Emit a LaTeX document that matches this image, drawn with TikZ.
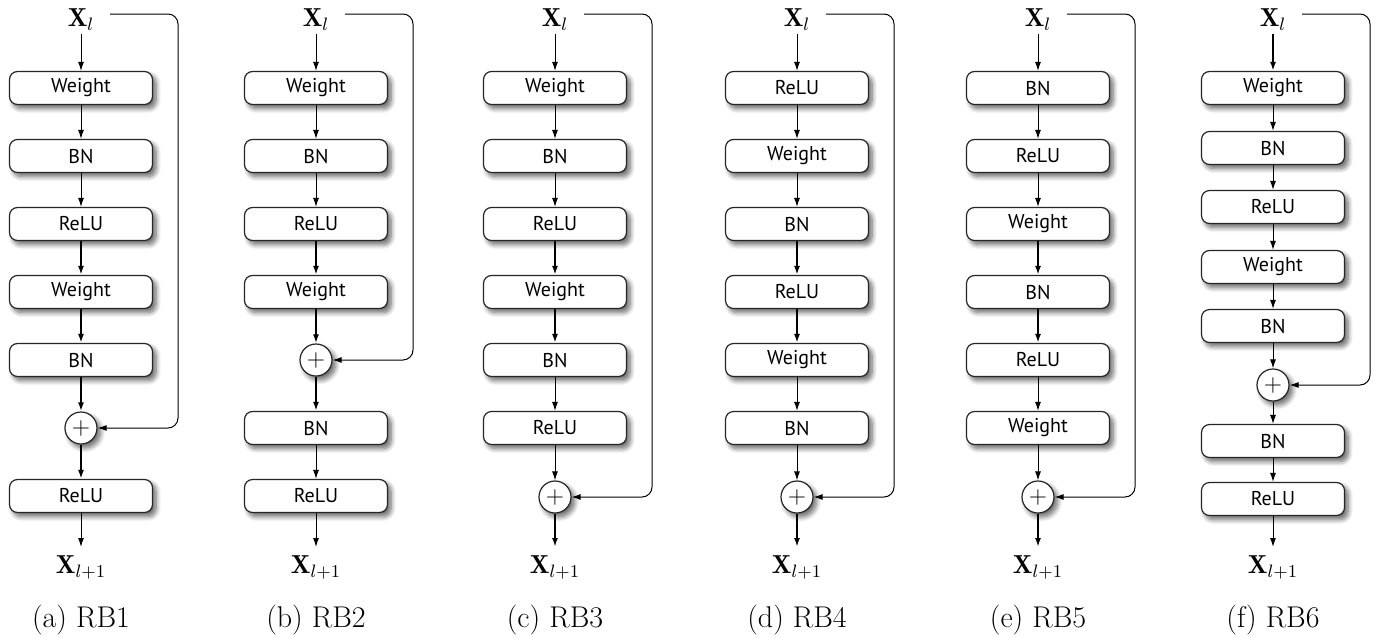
\documentclass[tikz,border=0pt]{standalone}
\usepackage{fontspec}
\newfontfamily\boxfont{PT Sans}
\usetikzlibrary{arrows.meta,shadows.blur}
\begin{document}
\begin{tikzpicture}[x=0.5pt,y=-0.5pt,
  shd/.style={blur shadow={shadow xshift=1.8pt,shadow yshift=-2pt,shadow blur radius=2.4pt,shadow blur steps=8,shadow opacity=60}},
  blk/.style={draw=black!85,line width=0.6pt,fill=white,rounded corners=4pt,
    minimum width=71.5pt,minimum height=16.5pt,inner sep=0pt,
    font=\boxfont\fontsize{10}{12}\selectfont,shd},
  sum/.style={circle,draw=black!85,line width=0.6pt,fill=white,minimum size=16pt,inner sep=0pt,
    font=\fontsize{12.5}{14}\selectfont,shd},
  xin/.style={anchor=base,inner xsep=2pt,inner ysep=1.5pt,font=\fontsize{13}{15}\selectfont},
  xout/.style={anchor=north,inner xsep=2pt,inner ysep=4pt,font=\fontsize{13}{15}\selectfont},
  capt/.style={font=\fontsize{15}{17}\selectfont},
  arr/.style={-{Latex[length=4.5pt,width=3pt]},line width=0.5pt},
  tk/.style={line width=0.9pt},
  skip/.style={arr,rounded corners=5pt}
]
\useasboundingbox (0,0) rectangle (1385,637);

% ---------- (a) RB1 ----------
\node[xin] (aX) at (81,26) {$\mathbf{X}_l$};
\coordinate (aS) at (110,14);
\foreach \t [count=\i] in {Weight,BN,ReLU,Weight,BN}
  \node[blk] (a\i) at (81,{88+68*(\i-1)}) {\t};
\node[sum] (aP) at (81,428) {$+$};
\node[blk] (a6) at (81,496) {ReLU};
\node[xout] (aY) at (81,547) {$\mathbf{X}_{l+1}$};
\node[capt] (aC) at (81,620) {(a) RB1};
\coordinate (aK) at (178,428);
\draw[arr] (aX) -- (a1);
\draw[arr] (a1) -- (a2);
\draw[arr] (a2) -- (a3);
\draw[arr,tk] (a3) -- (a4);
\draw[arr,tk] (a4) -- (a5);
\draw[arr,tk] (a5) -- (aP);
\draw[arr,tk] (aP) -- (a6);
\draw[arr] (a6) -- (aY);
\draw[skip] (aS) -| (aK) -- (aP);

% ---------- (b) RB2 ----------
\node[xin] (bX) at (316,26) {$\mathbf{X}_l$};
\coordinate (bS) at (345,14);
\foreach \t [count=\i] in {Weight,BN,ReLU,Weight}
  \node[blk] (b\i) at (316,{88+68*(\i-1)}) {\t};
\node[sum] (bP) at (316,360) {$+$};
\node[blk] (b5) at (316,428) {BN};
\node[blk] (b6) at (316,496) {ReLU};
\node[xout] (bY) at (316,547) {$\mathbf{X}_{l+1}$};
\node[capt] (bC) at (316,620) {(b) RB2};
\coordinate (bK) at (413,360);
\draw[arr] (bX) -- (b1);
\draw[arr] (b1) -- (b2);
\draw[arr] (b2) -- (b3);
\draw[arr,tk] (b3) -- (b4);
\draw[arr,tk] (b4) -- (bP);
\draw[arr,tk] (bP) -- (b5);
\draw[arr] (b5) -- (b6);
\draw[arr] (b6) -- (bY);
\draw[skip] (bS) -| (bK) -- (bP);

% ---------- (c) RB3 ----------
\node[xin] (cX) at (555,26) {$\mathbf{X}_l$};
\coordinate (cS) at (584,14);
\foreach \t [count=\i] in {Weight,BN,ReLU,Weight,BN,ReLU}
  \node[blk] (c\i) at (555,{88+68*(\i-1)}) {\t};
\node[sum] (cP) at (555,497) {$+$};
\node[xout] (cY) at (555,547) {$\mathbf{X}_{l+1}$};
\node[capt] (cC) at (555,620) {(c) RB3};
\coordinate (cK) at (652,497);
\draw[arr] (cX) -- (c1);
\draw[arr] (c1) -- (c2);
\draw[arr] (c2) -- (c3);
\draw[arr,tk] (c3) -- (c4);
\draw[arr,tk] (c4) -- (c5);
\draw[arr] (c5) -- (c6);
\draw[arr] (c6) -- (cP);
\draw[arr,tk] (cP) -- (cY);
\draw[skip] (cS) -| (cK) -- (cP);

% ---------- (d) RB4 ----------
\node[xin] (dX) at (797,26) {$\mathbf{X}_l$};
\coordinate (dS) at (826,14);
\foreach \t [count=\i] in {ReLU,Weight,BN,ReLU,Weight,BN}
  \node[blk] (d\i) at (797,{88+68*(\i-1)}) {\t};
\node[sum] (dP) at (797,497) {$+$};
\node[xout] (dY) at (797,547) {$\mathbf{X}_{l+1}$};
\node[capt] (dC) at (797,620) {(d) RB4};
\coordinate (dK) at (894,497);
\draw[arr] (dX) -- (d1);
\draw[arr] (d1) -- (d2);
\draw[arr] (d2) -- (d3);
\draw[arr,tk] (d3) -- (d4);
\draw[arr,tk] (d4) -- (d5);
\draw[arr] (d5) -- (d6);
\draw[arr] (d6) -- (dP);
\draw[arr,tk] (dP) -- (dY);
\draw[skip] (dS) -| (dK) -- (dP);

% ---------- (e) RB5 ----------
\node[xin] (eX) at (1038,26) {$\mathbf{X}_l$};
\coordinate (eS) at (1067,14);
\foreach \t [count=\i] in {BN,ReLU,Weight,BN,ReLU,Weight}
  \node[blk] (e\i) at (1038,{88+68*(\i-1)}) {\t};
\node[sum] (eP) at (1038,497) {$+$};
\node[xout] (eY) at (1038,547) {$\mathbf{X}_{l+1}$};
\node[capt] (eC) at (1038,620) {(e) RB5};
\coordinate (eK) at (1135,497);
\draw[arr] (eX) -- (e1);
\draw[arr] (e1) -- (e2);
\draw[arr] (e2) -- (e3);
\draw[arr,tk] (e3) -- (e4);
\draw[arr,tk] (e4) -- (e5);
\draw[arr] (e5) -- (e6);
\draw[arr] (e6) -- (eP);
\draw[arr,tk] (eP) -- (eY);
\draw[skip] (eS) -| (eK) -- (eP);

% ---------- (f) RB6 ----------
\node[xin] (fX) at (1273,26) {$\mathbf{X}_l$};
\coordinate (fS) at (1302,14);
\node[blk] (f1) at (1273,88) {Weight};
\node[blk] (f2) at (1273,148) {BN};
\node[blk] (f3) at (1273,207) {ReLU};
\node[blk] (f4) at (1273,267) {Weight};
\node[blk] (f5) at (1273,326) {BN};
\node[sum] (fP) at (1273,385) {$+$};
\node[blk] (f6) at (1273,441) {BN};
\node[blk] (f7) at (1273,499) {ReLU};
\node[xout] (fY) at (1273,547) {$\mathbf{X}_{l+1}$};
\node[capt] (fC) at (1273,620) {(f) RB6};
\coordinate (fK) at (1370,385);
\draw[arr,tk] (fX) -- (f1);
\draw[arr] (f1) -- (f2);
\draw[arr] (f2) -- (f3);
\draw[arr] (f3) -- (f4);
\draw[arr] (f4) -- (f5);
\draw[arr] (f5) -- (fP);
\draw[arr] (fP) -- (f6);
\draw[arr] (f6) -- (f7);
\draw[arr] (f7) -- (fY);
\draw[skip] (fS) -| (fK) -- (fP);
\end{tikzpicture}
\end{document}
